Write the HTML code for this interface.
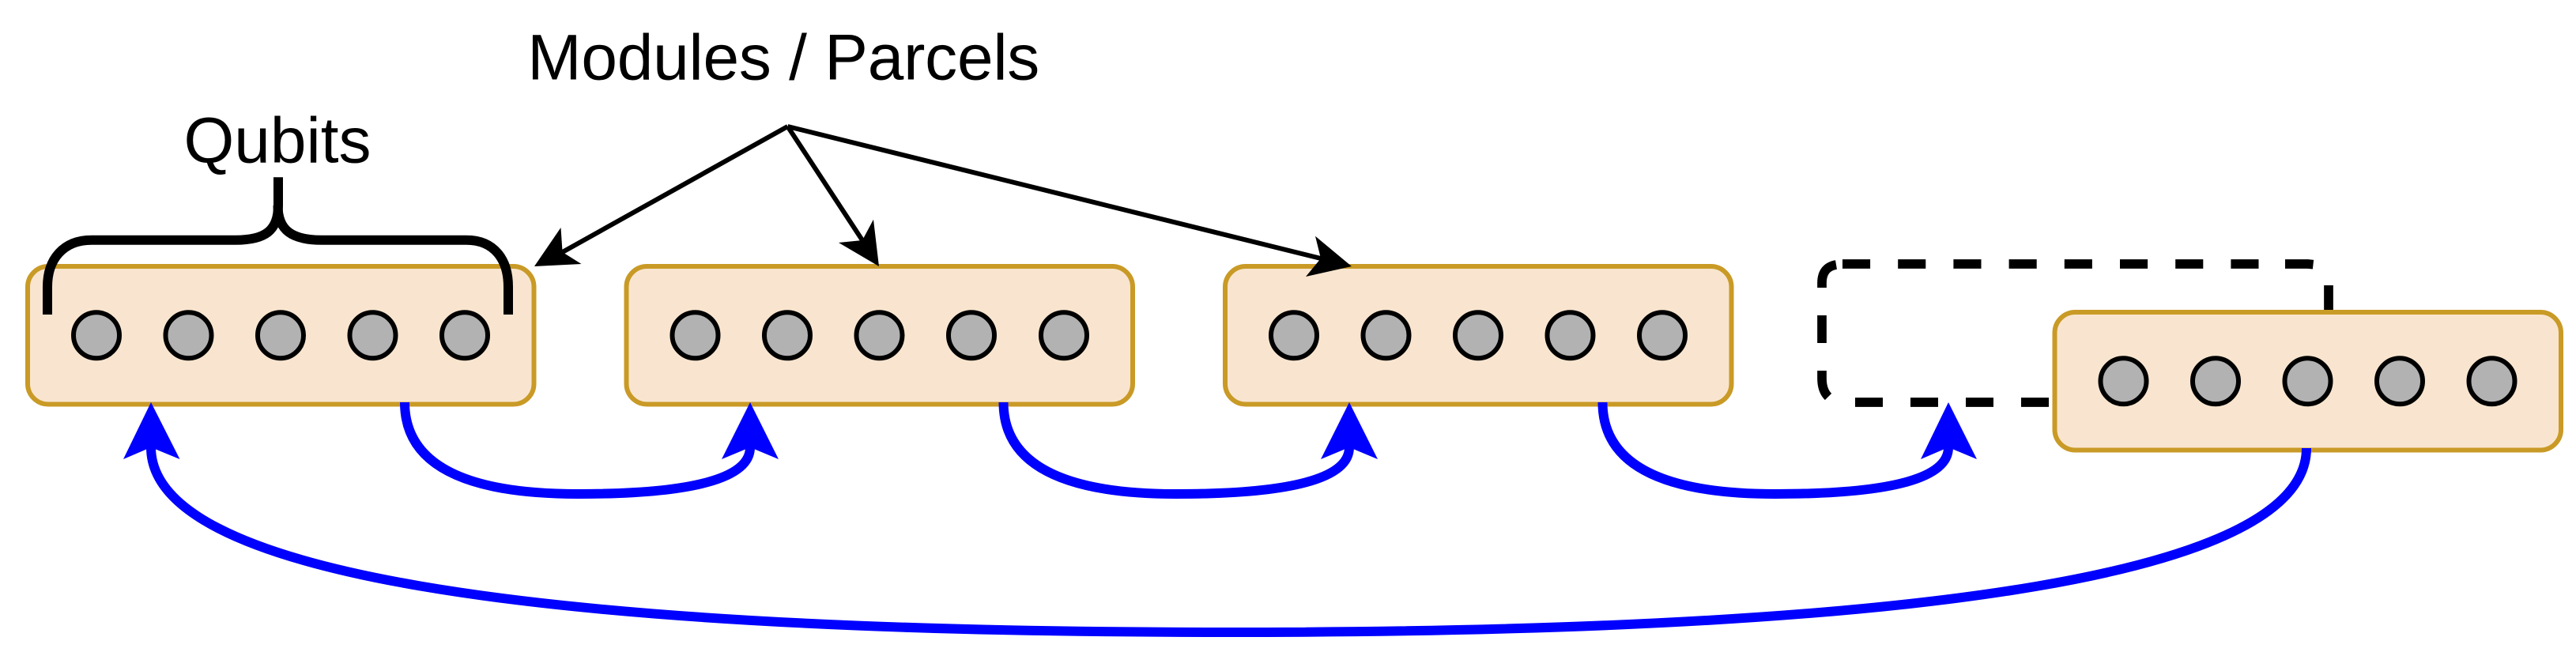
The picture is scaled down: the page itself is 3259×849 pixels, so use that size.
<!DOCTYPE html>
<html>
<head>
<meta charset="utf-8">
<title>Modules / Parcels</title>
<style>
html,body{margin:0;padding:0;background:#fff;width:3259px;height:849px;overflow:hidden}
svg{display:block}
text{font-family:"Liberation Sans",Arial,sans-serif;font-size:82px;fill:#000}
</style>
</head>
<body>
<svg xmlns="http://www.w3.org/2000/svg" width="3259" height="849" viewBox="0 0 3259 849">
<rect width="3259" height="849" fill="#fff"/>

<!-- dashed connector -->
<g fill="none" stroke="#000" stroke-width="11.7">
  <path d="M2946 395V361"/>
  <path d="M2891 334H2920L2926.5 334.7"/>
  <path d="M2331 334H2892" stroke-dasharray="35.1 35.1"/>
  <path d="M2305 364V358Q2305 338 2323 335"/>
  <path d="M2305 399V434"/>
  <path d="M2305 469V479Q2305 494 2313 502"/>
  <path d="M2347 509H2382M2417 509H2452M2487 509H2522M2557 509H2592"/>
</g>

<!-- boxes -->
<g fill="#f9e5cf" stroke="#c99a26" stroke-width="6">
  <rect x="35" y="337" width="640.5" height="174.5" rx="26" ry="26"/>
  <rect x="792.5" y="337" width="640.5" height="174.5" rx="26" ry="26"/>
  <rect x="1550" y="337" width="640.5" height="174.5" rx="26" ry="26"/>
  <rect x="2599.5" y="395" width="640.5" height="174.5" rx="26" ry="26"/>
</g>

<!-- qubits -->
<g fill="#b2b2b2" stroke="#000" stroke-width="6">
  <circle cx="122" cy="424.3" r="29"/><circle cx="238.5" cy="424.3" r="29"/><circle cx="355" cy="424.3" r="29"/><circle cx="471.5" cy="424.3" r="29"/><circle cx="588" cy="424.3" r="29"/>
  <circle cx="879.5" cy="424.3" r="29"/><circle cx="996" cy="424.3" r="29"/><circle cx="1112.5" cy="424.3" r="29"/><circle cx="1229" cy="424.3" r="29"/><circle cx="1346" cy="424.3" r="29"/>
  <circle cx="1637" cy="424.3" r="29"/><circle cx="1753.5" cy="424.3" r="29"/><circle cx="1870" cy="424.3" r="29"/><circle cx="1986.5" cy="424.3" r="29"/><circle cx="2103" cy="424.3" r="29"/>
  <circle cx="2686.5" cy="482.3" r="29"/><circle cx="2803" cy="482.3" r="29"/><circle cx="2919.5" cy="482.3" r="29"/><circle cx="3036" cy="482.3" r="29"/><circle cx="3152.5" cy="482.3" r="29"/>
</g>

<!-- brace -->
<g fill="none" stroke="#000" stroke-width="12">
  <path d="M60 398V363C60 328 80 303.7 116 303.7H298C335 303.7 352 292 352 260V224.3"/>
  <path d="M351.5 260C351.5 292 370 303.7 407 303.7H590C625 303.7 643 328 643 363V398"/>
</g>

<!-- black arrows -->
<g fill="none" stroke="#000" stroke-width="6">
  <path d="M996.5 160L711.6 319"/>
  <path d="M996.5 160L1091 304"/>
  <path d="M996.5 160L1671 327"/>
</g>
<g fill="#000">
  <path d="M676 337L709.5 288L711.6 319L735.5 334Z"/>
  <path d="M1112 337L1105 277.7L1091 304L1061 307Z"/>
  <path d="M1710 337L1664 298.7L1671 327L1652 350Z"/>
</g>

<!-- blue arrows -->
<g fill="none" stroke="#0000ff" stroke-width="12">
  <path d="M512 509Q512 625 731 625Q949 625 949 566"/>
  <path d="M1269.5 509Q1269.5 625 1488 625Q1707 625 1707 566"/>
  <path d="M2027.5 509Q2027.5 625 2246 625Q2465 625 2465 566"/>
  <path d="M2918 567Q2918 800 1554 800Q191 800 191 566"/>
</g>
<g fill="#0000ff">
  <path d="M191 509L227.5 581L191 566L156 581Z"/>
  <path d="M949 509L985 581L949 566L913 581Z"/>
  <path d="M1707 509L1743 581L1707 566L1671 581Z"/>
  <path d="M2465 509L2501 581L2465 566L2430 581Z"/>
</g>

<text x="667.3" y="100.7" textLength="648" lengthAdjust="spacing">Modules / Parcels</text>
<text x="232.5" y="205.7" textLength="237" lengthAdjust="spacing">Qubits</text>
</svg>
</body>
</html>
